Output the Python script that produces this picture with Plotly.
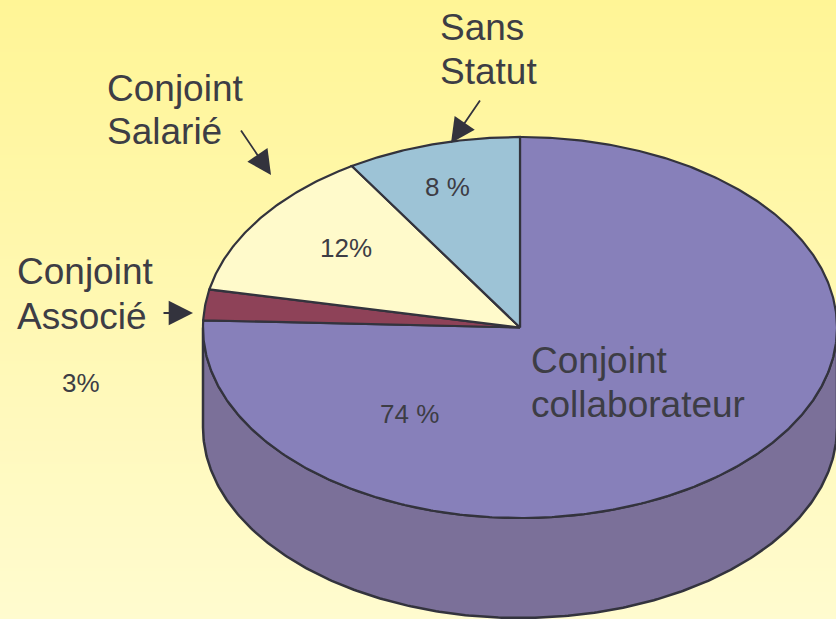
import numpy as np
import plotly.graph_objects as go

# Data (share of the drawn pie, clockwise from 12 o'clock)
categories = ["Conjoint collaborateur", "Conjoint Associé", "Conjoint Salarié", "Sans Statut"]
shares = [75.6, 2.6, 12.9, 8.9]
pct_labels = ["74 %", "3%", "12%", "8 %"]
colors = ["#8780BA", "#8E4258", "#FFFACB", "#9DC3D6"]
wall_color = "#7B7099"
line_color = "#33333D"
text_color = "#3D3D45"

pct_pos = [(409, 414), (81, 383), (346, 248), (447, 187)]
name_lines = [("Conjoint", 528.5, 360), ("collaborateur", 528.5, 404),
              ("Conjoint", 14.5, 271), ("Associé", 14.5, 316),
              ("Conjoint", 104.5, 88), ("Salarié", 104.5, 131),
              ("Sans", 437.5, 27), ("Statut", 437.5, 71)]
arrows = [(162, 313, 193, 313), (240, 129, 271, 175), (481, 99, 451, 143)]

W, H = 836, 619
cx, cy, rx, ry, depth = 520, 327.5, 317, 190.5, 100


def ell(t, dy=0):
    return cx + rx * np.cos(t), cy + dy - ry * np.sin(t)


fig = go.Figure()

# Background vertical gradient
n = 80
fig.add_trace(go.Heatmap(
    x=[0, W], y=np.linspace(0, H, n), z=[[i, i] for i in range(n)],
    colorscale=[[0, "#FFF596"], [1, "#FFFBCF"]],
    showscale=False, hoverinfo="skip", zsmooth="best"))

# Side wall
t = np.linspace(np.pi, 2 * np.pi, 300)
xu, yu = ell(t)
xl, yl = ell(t[::-1], depth)
fig.add_trace(go.Scatter(
    x=np.r_[xu, xl, xu[0]], y=np.r_[yu, yl, yu[0]], mode="lines", fill="toself",
    fillcolor=wall_color, line=dict(color=line_color, width=2.5), hoverinfo="skip"))

# Top slices, computed from the shares, clockwise on screen from 12 o'clock
total = sum(shares)
start = np.pi / 2
for name, share, col in zip(categories, shares, colors):
    sweep = 2 * np.pi * share / total
    t = np.linspace(start, start - sweep, max(8, int(share * 8)))
    xs, ys = ell(t)
    fig.add_trace(go.Scatter(
        x=np.r_[cx, xs, cx], y=np.r_[cy, ys, cy], mode="lines", fill="toself",
        fillcolor=col, line=dict(color=line_color, width=2.2), name=name, hoverinfo="name"))
    start -= sweep

annotations = []
for lab, (x, y) in zip(pct_labels, pct_pos):
    annotations.append(dict(x=x, y=y, text=lab, showarrow=False, xanchor="center", yanchor="middle",
                            font=dict(size=26, color=text_color)))
for txt, x, y in name_lines:
    annotations.append(dict(x=x, y=y, text=txt, showarrow=False, xanchor="left", yanchor="middle",
                            font=dict(size=37, color=text_color)))
for x0, y0, x1, y1 in arrows:
    annotations.append(dict(x=x1, y=y1, ax=x0, ay=y0, axref="x", ayref="y", xref="x", yref="y",
                            text="", showarrow=True, arrowhead=2, arrowsize=2.7, arrowwidth=1.8,
                            arrowcolor=line_color))

fig.update_layout(
    width=W, height=H, margin=dict(l=0, r=0, t=0, b=0), showlegend=False,
    paper_bgcolor="#FFF8AE", plot_bgcolor="#FFF8AE",
    font=dict(family="Liberation Sans, Arial, sans-serif"),
    xaxis=dict(range=[0, W], visible=False, fixedrange=True),
    yaxis=dict(range=[H, 0], visible=False, fixedrange=True),
    annotations=annotations)

fig.write_html("out.html", config=dict(displayModeBar=False),
               post_script="document.body.style.margin='0';document.body.style.overflow='hidden';")
